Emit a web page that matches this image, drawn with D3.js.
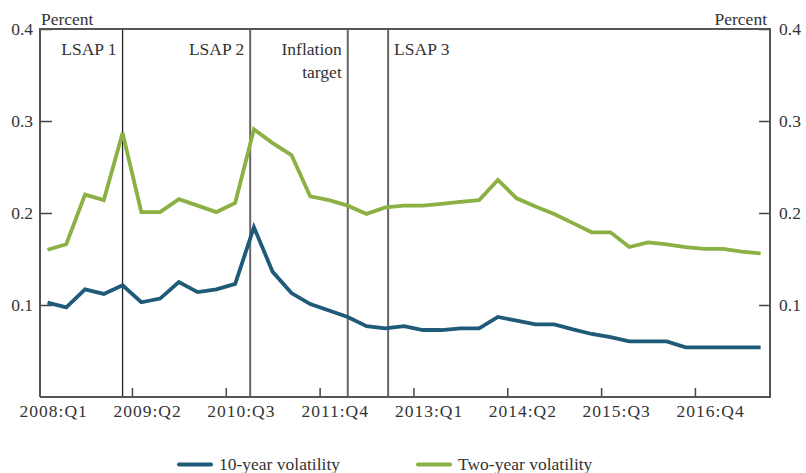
<!DOCTYPE html>
<html><head><meta charset="utf-8">
<script src="https://cdn.jsdelivr.net/npm/d3@7"></script>
<style>
body{margin:0;background:#fff;}
svg text{font-family:"Liberation Serif","Times New Roman","DejaVu Serif",Times,serif !important;fill:#333;}
</style></head>
<body><svg id="c" width="806" height="473" font-family="Liberation Serif"></svg>
<script>
const quarterIndex = d3.range(39); // 2008:Q1 .. 2017:Q3
const tickLabels = ["2008:Q1","2009:Q2","2010:Q3","2011:Q4","2013:Q1","2014:Q2","2015:Q3","2016:Q4"];
const tenYear = [0.1025,0.0975,0.117,0.112,0.1215,0.103,0.107,0.125,0.114,0.117,0.123,0.1845,0.136,0.113,0.101,0.094,0.087,0.077,0.0746,0.077,0.0728,0.0728,0.0746,0.0746,0.087,0.083,0.079,0.079,0.0735,0.0685,0.065,0.0605,0.0605,0.0605,0.054,0.054,0.054,0.054,0.054];
const twoYear = [0.160,0.166,0.220,0.214,0.287,0.201,0.201,0.215,0.208,0.201,0.211,0.291,0.276,0.263,0.218,0.214,0.208,0.199,0.206,0.208,0.208,0.210,0.212,0.214,0.236,0.216,0.207,0.199,0.189,0.179,0.179,0.163,0.168,0.166,0.163,0.161,0.161,0.158,0.156];
const events = [
  {pos:4.0, label:["LSAP 1"], side:"left", color:"#222", w:1.3},
  {pos:10.8, label:["LSAP 2"], side:"left", color:"#666", w:2},
  {pos:16.0, label:["Inflation","target"], side:"left", color:"#666", w:2},
  {pos:18.15, label:["LSAP 3"], side:"right", color:"#666", w:2}
];
const yTicks = [0.1,0.2,0.3,0.4];

const FONT = '"Liberation Serif","Times New Roman","DejaVu Serif",serif';
const svg = d3.select("#c");
const L=40,R=770,T=29,B=397;
const x = d3.scaleLinear().domain([-0.4,38.5]).range([L,R]);
const y = d3.scaleLinear().domain([0,0.4]).range([B,T]);
const fs = "17.5px";

// event lines
events.forEach(e=>{
  svg.append("line").attr("x1",x(e.pos)).attr("x2",x(e.pos)).attr("y1",T).attr("y2",B)
    .attr("stroke",e.color).attr("stroke-width",e.w);
  e.label.forEach((t,k)=>{
    svg.append("text").attr("x", e.side==="left"? x(e.pos)-6 : x(e.pos)+6)
      .attr("y",55+k*23).attr("text-anchor", e.side==="left"?"end":"start")
      .style("font-size",fs).text(t);
  });
});

// y axes
const yl = svg.append("g").attr("transform",`translate(${L},0)`)
  .call(d3.axisLeft(y).tickValues(yTicks).tickSize(-12).tickFormat(d3.format(".1f")));
const yr = svg.append("g").attr("transform",`translate(${R},0)`)
  .call(d3.axisRight(y).tickValues(yTicks).tickSize(-11).tickFormat(d3.format(".1f")));
// x axis ticks
const xa = svg.append("g").attr("transform",`translate(0,${B})`)
  .call(d3.axisBottom(x).tickValues(d3.range(1,8).map(k=>k*5-0.5)).tickSize(-9).tickFormat(""));
[yl,yr,xa].forEach(g=>{
  g.attr("font-family",null).attr("font-size",null);
  g.select(".domain").remove();
  g.selectAll(".tick line").attr("stroke","#444").attr("stroke-width",1.5);
  g.selectAll(".tick text").style("font-size",fs).attr("fill","#333");
});
yl.selectAll(".tick text").attr("x",-7).attr("dy","0.32em");
yr.selectAll(".tick text").attr("x",9).attr("dy","0.32em");

// x labels
svg.append("g").selectAll("text").data(tickLabels).join("text")
  .attr("x",(d,i)=>x(i*5+0.33)).attr("y",417).attr("text-anchor","middle")
  .style("font-size",fs).style("letter-spacing","1px").text(d=>d);

// frame
svg.append("path").attr("d",`M${L},${B}V${T}H${R}V${B}H${L}`).attr("fill","none")
  .attr("stroke","#555").attr("stroke-width",2);

// lines
const line = d3.line().x((d,i)=>x(i)).y(d=>y(d));
svg.append("path").datum(twoYear).attr("d",line).attr("fill","none").attr("stroke","#8bb043").attr("stroke-width",3.8).attr("stroke-linejoin","miter");
svg.append("path").datum(tenYear).attr("d",line).attr("fill","none").attr("stroke","#1f5b78").attr("stroke-width",3.8).attr("stroke-linejoin","miter");

// percent labels
svg.append("text").attr("x",41).attr("y",25).style("font-size",fs).text("Percent");
svg.append("text").attr("x",767).attr("y",25).attr("text-anchor","end").style("font-size",fs).text("Percent");

// legend
const leg = [{name:"10-year volatility",color:"#1f5b78",x:179},{name:"Two-year volatility",color:"#8bb043",x:418}];
leg.forEach(l=>{
  svg.append("line").attr("x1",l.x).attr("x2",l.x+32).attr("y1",464.5).attr("y2",464.5)
    .attr("stroke",l.color).attr("stroke-width",4).attr("stroke-linecap","round");
  svg.append("text").attr("x",l.x+40).attr("y",470).style("font-size",fs).text(l.name);
});
svg.selectAll("text").style("font-family",FONT);
</script></body></html>
